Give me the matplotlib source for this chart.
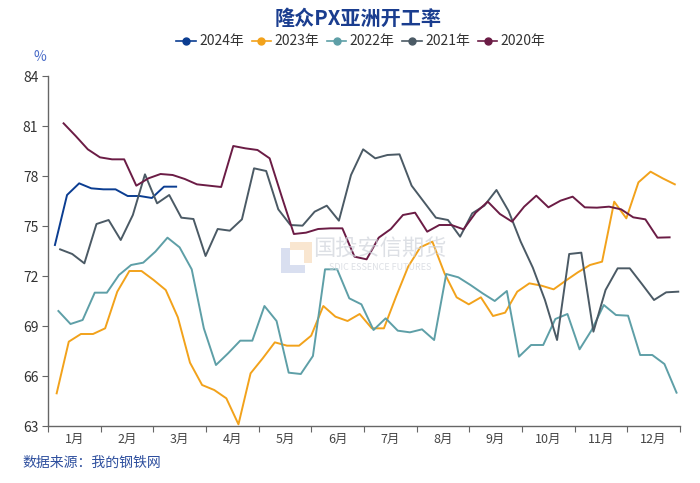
import numpy as np
import pandas as pd
import matplotlib
matplotlib.use("Agg")
import matplotlib.pyplot as plt
from matplotlib.patches import Polygon

plt.rcParams['font.family'] = ['Noto Sans CJK SC', 'DejaVu Sans']

# weekly data (Fridays), each year drawn against day-of-year
start_2024 = '2024-01-05'
start_2023 = '2023-01-06'
start_2022 = '2022-01-07'
start_2021 = '2021-01-08'
start_2020 = '2020-01-10'

v2024 = [73.86, 76.86, 77.56, 77.26, 77.2, 77.2, 76.8, 76.8, 76.68, 77.36, 77.36]

v2023 = [64.96, 68.06, 68.52, 68.52, 68.86, 71.06, 72.3, 72.3, 71.76, 71.16,
         69.52, 66.8, 65.46, 65.16, 64.66, 63.1, 66.16, 67.06, 68.02, 67.82,
         67.82, 68.42, 70.2, 69.56, 69.3, 69.72, 68.86, 68.86, 70.76, 72.56,
         73.72, 74.06, 72.16, 70.72, 70.3, 70.72, 69.6, 69.8, 71.06, 71.56,
         71.42, 71.2, 71.72, 72.22, 72.66, 72.86, 76.46, 75.46, 77.62, 78.26,
         77.86, 77.5]

v2022 = [69.9, 69.12, 69.36, 71.0, 71.0, 72.06, 72.66, 72.8, 73.46, 74.3,
         73.72, 72.4, 68.86, 66.66, 67.36, 68.12, 68.12, 70.2, 69.3, 66.2,
         66.12, 67.2, 72.4, 72.4, 70.66, 70.3, 68.76, 69.46, 68.72, 68.62,
         68.8, 68.16, 72.12, 71.92, 71.46, 70.96, 70.5, 71.1, 67.16, 67.86,
         67.86, 69.42, 69.72, 67.6, 68.76, 70.26, 69.66, 69.62, 67.26, 67.26,
         66.72, 65.0]

v2021 = [73.6, 73.32, 72.76, 75.12, 75.36, 74.16, 75.66, 78.1, 76.36, 76.86,
         75.5, 75.42, 73.2, 74.82, 74.72, 75.4, 78.46, 78.3, 76.0, 75.06,
         75.02, 75.86, 76.22, 75.32, 78.06, 79.6, 79.06, 79.26, 79.3, 77.42,
         76.46, 75.5, 75.36, 74.36, 75.76, 76.22, 77.16, 75.9, 74.06, 72.5,
         70.56, 68.16, 73.32, 73.4, 68.66, 71.16, 72.46, 72.46, 71.52, 70.56,
         71.02, 71.06]

v2020 = [81.16, 80.4, 79.6, 79.12, 79.0, 79.0, 77.42, 77.86, 78.12, 78.06,
         77.82, 77.5, 77.42, 77.34, 79.8, 79.66, 79.56, 79.06, 76.76, 74.52,
         74.6, 74.82, 74.86, 74.86, 73.16, 73.0, 74.3, 74.82, 75.66, 75.8,
         74.66, 75.06, 75.06, 74.8, 75.8, 76.46, 75.72, 75.26, 76.16, 76.82,
         76.12, 76.52, 76.76, 76.12, 76.1, 76.16, 76.0, 75.52, 75.4, 74.3,
         74.32]

months = ['1月', '2月', '3月', '4月', '5月', '6月', '7月', '8月', '9月', '10月', '11月', '12月']

series = [
    ('2024年', start_2024, v2024, '#0b3d91'),
    ('2023年', start_2023, v2023, '#f2a21b'),
    ('2022年', start_2022, v2022, '#5e9fa7'),
    ('2021年', start_2021, v2021, '#4b5a65'),
    ('2020年', start_2020, v2020, '#6b1c45'),
]


def month_pos(start, n):
    d = pd.date_range(start, periods=n, freq='7D')
    jan1 = pd.Timestamp(year=d[0].year, month=1, day=1)
    return (d - jan1).days.values * 12 / 365.0


def px(x, y):
    # pixel position -> figure fraction
    return (x / 700, 1 - y / 483)


fig = plt.figure(figsize=(7, 4.83), dpi=100)

# faint watermark logo, behind the axes
blue_l = [px(281, 248), px(290, 248), px(290, 265), px(305, 265), px(305, 273), px(281, 273)]
orange_l = [px(290, 242), px(312, 242), px(312, 263), px(304, 263), px(304, 250), px(290, 250)]
fig.patches.append(Polygon(blue_l, closed=True, transform=fig.transFigure,
                           facecolor='#c9d2ea', edgecolor='none', alpha=0.7, zorder=0))
fig.patches.append(Polygon(orange_l, closed=True, transform=fig.transFigure,
                           facecolor='#f7dcbd', edgecolor='none', alpha=0.7, zorder=0))

ax = fig.add_axes([48 / 700, 1 - 426 / 483, 632 / 700, 350 / 483])
ax.patch.set_alpha(0)

handles = []
for name, start, vals, col in series:
    x = month_pos(start, len(vals))
    ax.plot(x, vals, color=col, lw=1.4)
    h, = ax.plot([], [], color=col, lw=1.2, marker='o', ms=5, label=name)
    handles.append(h)

ax.set_xlim(0, 12)
ax.set_ylim(63, 84)
ax.set_yticks(np.arange(63, 85, 3))
ax.set_xticks(np.arange(0, 13))
ax.set_xticklabels([])
ax.set_xticks(np.arange(12) + 0.5, minor=True)
ax.set_xticklabels(months, minor=True)
ax.tick_params(axis='x', which='minor', length=0, pad=5, labelsize=9, labelcolor='#444444')
ax.tick_params(axis='x', which='major', length=4, color='#666666')
ax.tick_params(axis='y', length=4, color='#666666', labelsize=10, labelcolor='#333333', pad=3)

for s in ['top', 'right']:
    ax.spines[s].set_visible(False)
for s in ['left', 'bottom']:
    ax.spines[s].set_color('#666666')
    ax.spines[s].set_linewidth(1.0)

fig.text(358 / 700, 1 - 18.5 / 483, '隆众PX亚洲开工率', ha='center', va='center',
         fontsize=14.5, fontweight='bold', color='#1a3d8f')

fig.legend(handles=handles, loc='center', bbox_to_anchor=(361 / 700, 1 - 41.5 / 483),
           ncol=5, frameon=False, fontsize=10, handlelength=1.4, handletextpad=0.25,
           columnspacing=0.55, labelcolor='#333333')

fig.text(40 / 700, 1 - 57 / 483, '%', ha='center', va='center', fontsize=10, color='#4a6cc8')
fig.text(22 / 700, 1 - 463 / 483, '数据来源：我的钢铁网', ha='left', va='center',
         fontsize=10, color='#2e4f9e')

# faint watermark text
fig.text(380 / 700, 1 - 249 / 483, '国投安信期货', ha='center', va='center',
         fontsize=16, color='#cfd3db', alpha=0.7, zorder=0)
fig.text(380 / 700, 1 - 268 / 483, 'SDIC ESSENCE FUTURES', ha='center', va='center',
         fontsize=6.5, color='#cfd3db', alpha=0.7, zorder=0)

fig.savefig('out.png', dpi=100)
